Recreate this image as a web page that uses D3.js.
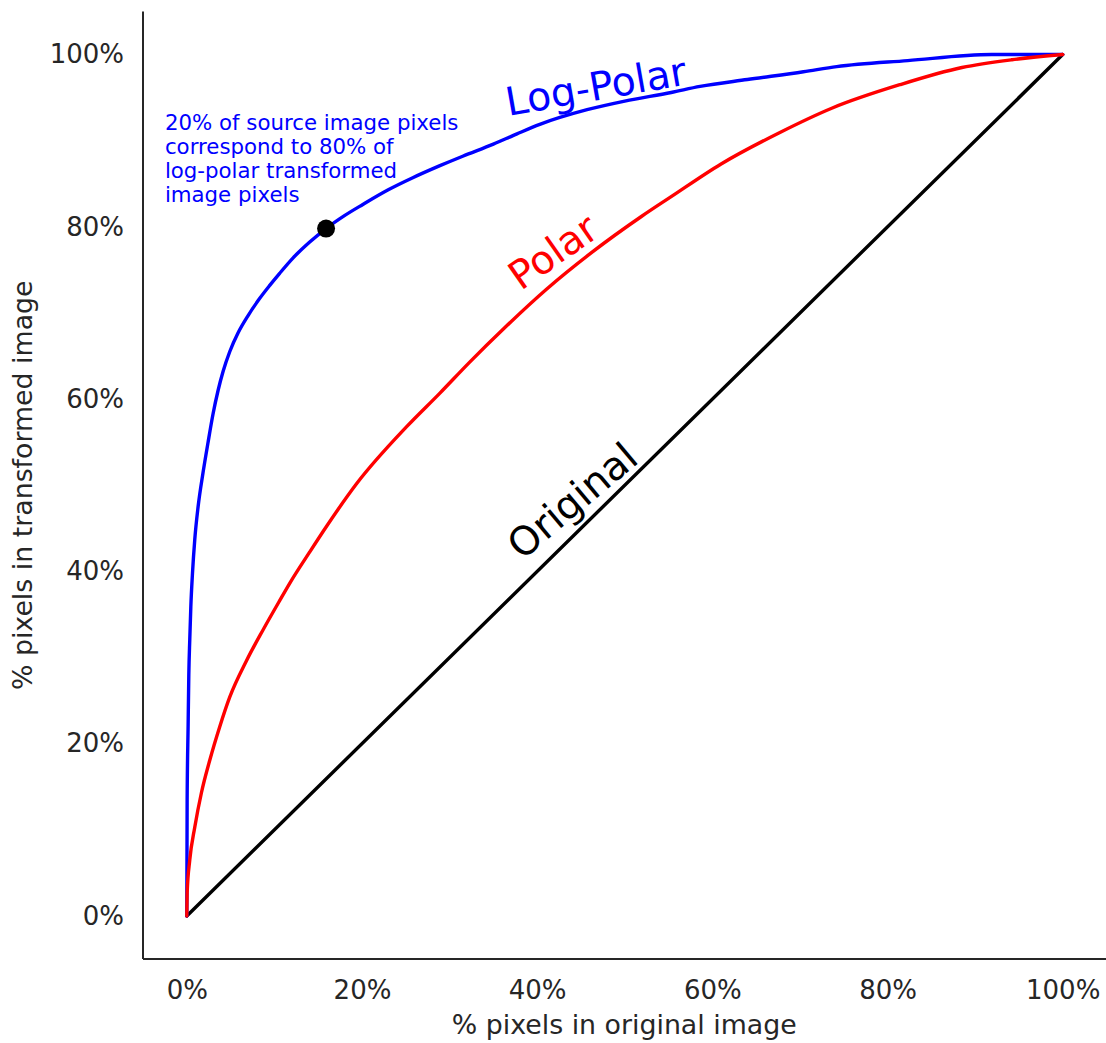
<!DOCTYPE html>
<html><head><meta charset="utf-8">
<script src="https://cdn.jsdelivr.net/npm/d3@7"></script>
<style>body{margin:0;background:#fff}svg{display:block}text{font-family:"DejaVu Sans",sans-serif}</style>
</head><body>
<svg id="chart" width="1106" height="1043"></svg>
<script>
// ---- data (fractions of pixels) ----
const originalX = [0, 1];
const originalY = [0, 1];
const logPolarX = [0, 0.0004, 0.0015, 0.0023, 0.0034, 0.0046, 0.0065, 0.0091, 0.0129, 0.0186, 0.0243, 0.030, 0.0357, 0.0414, 0.049, 0.0586, 0.070, 0.0833, 0.0947, 0.106, 0.1214, 0.140, 0.159, 0.180, 0.201, 0.230, 0.258, 0.289, 0.315, 0.350, 0.377, 0.403, 0.457, 0.500, 0.553, 0.586, 0.640, 0.704, 0.742, 0.823, 0.919, 1.0];
const logPolarY = [0, 0.135, 0.22, 0.28, 0.321, 0.359, 0.398, 0.437, 0.475, 0.515, 0.550, 0.583, 0.610, 0.632, 0.655, 0.677, 0.697, 0.717, 0.732, 0.746, 0.764, 0.782, 0.798, 0.813, 0.826, 0.843, 0.857, 0.871, 0.882, 0.896, 0.908, 0.919, 0.936, 0.946, 0.956, 0.963, 0.971, 0.980, 0.986, 0.993, 1.0, 1.0];
const polarX = [0, 0.0004, 0.0034, 0.0091, 0.0167, 0.0263, 0.0377, 0.049, 0.068, 0.087, 0.106, 0.118, 0.140, 0.160, 0.194, 0.251, 0.289, 0.323, 0.362, 0.410, 0.462, 0.519, 0.553, 0.610, 0.676, 0.737, 0.814, 0.885, 0.942, 1.0];
const polarY = [0, 0.027, 0.065, 0.103, 0.143, 0.181, 0.220, 0.254, 0.296, 0.332, 0.366, 0.387, 0.422, 0.453, 0.502, 0.568, 0.607, 0.643, 0.682, 0.727, 0.770, 0.812, 0.835, 0.873, 0.909, 0.938, 0.965, 0.985, 0.994, 1.0];
const highlightPoint = [0.159, 0.798];
const tickValues = [0, 0.2, 0.4, 0.6, 0.8, 1.0];
const tickLabels = ["0%", "20%", "40%", "60%", "80%", "100%"];
const annotationLines = ["20% of source image pixels", "correspond to 80% of", "log-polar transformed", "image pixels"];

const svg = d3.select("#chart");
const mLeft = 143, mRight = 1106.5, mTop = 11.5, mBottom = 959;
const x = d3.scaleLinear().domain([-0.05, 1.05]).range([mLeft, mRight]);
const y = d3.scaleLinear().domain([-0.05, 1.05]).range([mBottom, mTop]);
const axisColor = "#262626";

// axes (no ticks, seaborn white style)
const xAxis = d3.axisBottom(x).tickValues(tickValues).tickSize(0).tickPadding(22)
  .tickFormat((d, i) => tickLabels[i]);
const yAxis = d3.axisLeft(y).tickValues(tickValues).tickSize(0).tickPadding(19)
  .tickFormat((d, i) => tickLabels[i]);
const gx = svg.append("g").attr("transform", `translate(0,${mBottom})`).call(xAxis);
const gy = svg.append("g").attr("transform", `translate(${mLeft},0)`).call(yAxis);
[gx, gy].forEach(g => {
  g.select(".domain").attr("stroke", axisColor).attr("stroke-width", 2);
  g.selectAll("text").attr("fill", axisColor).style("font-size", "26px").style("font-family", "DejaVu Sans");
});
gx.select(".domain").attr("d", `M${mLeft},0H${mRight}`);
gy.select(".domain").attr("d", `M0,${mTop}V${mBottom}`);

// axis labels
svg.append("text").attr("x", (mLeft + mRight) / 2 - 0.5).attr("y", 1034)
  .attr("text-anchor", "middle").attr("fill", axisColor).style("font-size", "26.8px")
  .text("% pixels in original image");
svg.append("text").attr("transform", `translate(32,${(mTop + mBottom) / 2}) rotate(-90)`)
  .attr("text-anchor", "middle").attr("fill", axisColor).style("font-size", "26.8px")
  .text("% pixels in transformed image");

// lines
const line = d3.line().x(d => x(d[0])).y(d => y(d[1])).curve(d3.curveMonotoneX);
const series = [
  {xs: originalX, ys: originalY, color: "#000000"},
  {xs: logPolarX, ys: logPolarY, color: "#0000ff"},
  {xs: polarX, ys: polarY, color: "#ff0000"}
];
series.forEach(s => {
  svg.append("path").datum(s.xs.map((v, i) => [v, s.ys[i]]))
    .attr("d", line).attr("fill", "none").attr("stroke", s.color)
    .attr("stroke-width", 3.4).attr("stroke-linejoin", "round").attr("stroke-linecap", "round");
});

// highlight point
svg.append("circle").attr("cx", x(highlightPoint[0])).attr("cy", y(highlightPoint[1]))
  .attr("r", 9).attr("fill", "#000");

// curve labels
const labels = [
  {text: "Log-Polar", px: 0.467, py: 0.963, rot: -10, color: "#0000ff"},
  {text: "Polar", px: 0.418, py: 0.771, rot: -35, color: "#ff0000"},
  {text: "Original", px: 0.440, py: 0.482, rot: -40, color: "#000000"}
];
labels.forEach(l => {
  svg.append("text")
    .attr("transform", `translate(${x(l.px)},${y(l.py)}) rotate(${l.rot})`)
    .attr("text-anchor", "middle").attr("dy", "0.35em")
    .attr("fill", l.color).style("font-size", "39.5px").text(l.text);
});

// annotation
const ann = svg.append("text").attr("fill", "#0000ff").style("font-size", "21.3px");
annotationLines.forEach((t, i) => {
  ann.append("tspan").attr("x", x(-0.025)).attr("y", 129.5 + i * 24).text(t);
});
</script>
</body></html>
